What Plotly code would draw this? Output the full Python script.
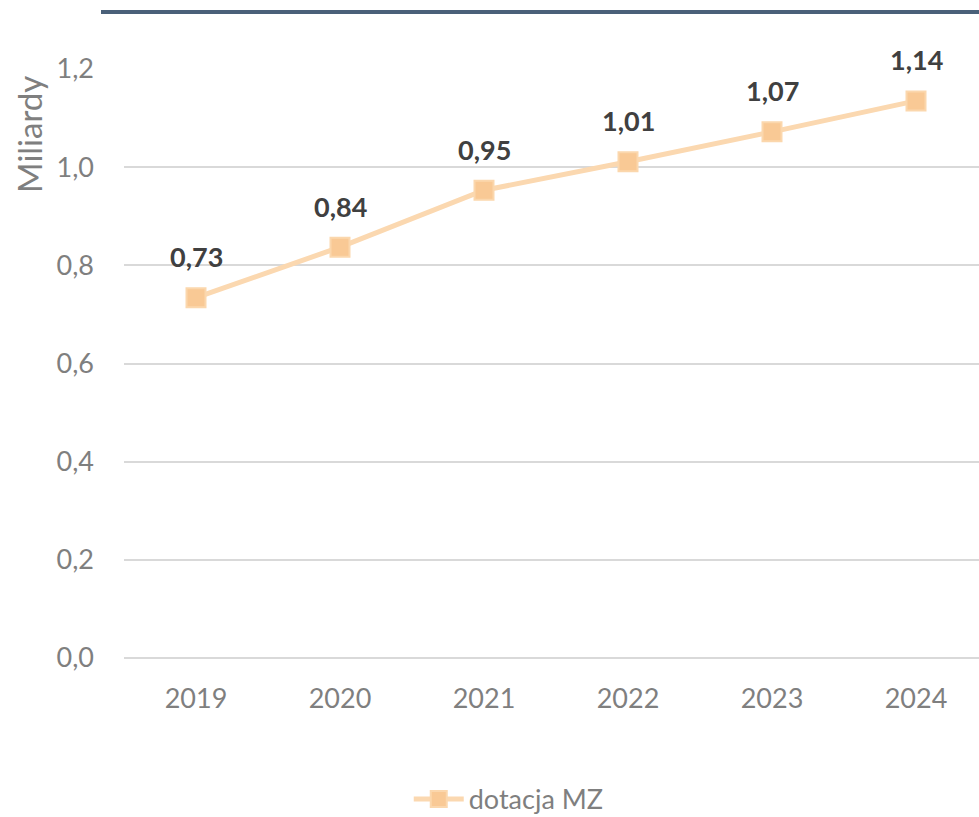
import plotly.graph_objects as go

years = ["2019", "2020", "2021", "2022", "2023", "2024"]
values = [0.734, 0.837, 0.953, 1.011, 1.072, 1.135]
labels = ["0,73", "0,84", "0,95", "1,01", "1,07", "1,14"]
y_ticks = [0.0, 0.2, 0.4, 0.6, 0.8, 1.0, 1.2]
y_tick_text = ["0,0", "0,2", "0,4", "0,6", "0,8", "1,0", "1,2"]
series_name = "dotacja MZ"

W, H = 979, 817
L, T, B = 124, 69, 159
FONT = "Lato, Open Sans, sans-serif"

fig = go.Figure()
fig.add_trace(go.Scatter(
    x=list(range(len(years))), y=values, name=series_name,
    mode="lines+markers",
    line=dict(color="#fbd8b0", width=5),
    marker=dict(symbol="square", size=19, color="#f9c995",
                line=dict(color="#fbd7ad", width=2)),
    cliponaxis=False,
))

for i, (v, t) in enumerate(zip(values, labels)):
    fig.add_annotation(x=i, y=v, text=t, showarrow=False, yshift=41,
                       xanchor="center", yanchor="middle",
                       font=dict(family=FONT, size=27, color="#404040", weight="bold"))

fig.update_layout(
    width=W, height=H,
    margin=dict(l=L, r=0, t=T, b=B, pad=0, autoexpand=False),
    paper_bgcolor="white", plot_bgcolor="white",
    font=dict(family=FONT, color="#7f7f7f"),
    showlegend=True,
    legend=dict(orientation="h", x=0.45, xanchor="center", y=-0.24, yanchor="middle",
                font=dict(size=27, color="#7f7f7f"), itemwidth=50),
    xaxis=dict(range=[-0.5, 5.4375], tickvals=list(range(len(years))), ticktext=years,
               showgrid=False, zeroline=False, showline=False, ticks="",
               tickfont=dict(size=27, color="#7f7f7f"), ticklabelstandoff=22),
    yaxis=dict(range=[0, 1.2], tickvals=y_ticks, ticktext=y_tick_text,
               showgrid=True, gridcolor="#d9d9d9", gridwidth=1.5,
               zeroline=True, zerolinecolor="#d9d9d9", zerolinewidth=1.5,
               showline=False, ticks="", tickfont=dict(size=27, color="#7f7f7f"),
               ticklabelstandoff=29),
)

fig.add_shape(type="line", xref="paper", yref="paper",
              x0=(101 - L) / (W - L), x1=1.0,
              y0=1 + (T - 12) / (H - T - B), y1=1 + (T - 12) / (H - T - B),
              line=dict(color="#4a6079", width=4))

fig.add_annotation(text="Miliardy", xref="paper", yref="paper",
                   x=(29 - L) / (W - L), y=(H - B - 135) / (H - T - B),
                   xanchor="center", yanchor="middle", textangle=-90, showarrow=False,
                   font=dict(size=33, color="#7f7f7f"))

fig.write_html("out.html", config={"displayModeBar": False},
               post_script="document.body.style.margin='0';")
